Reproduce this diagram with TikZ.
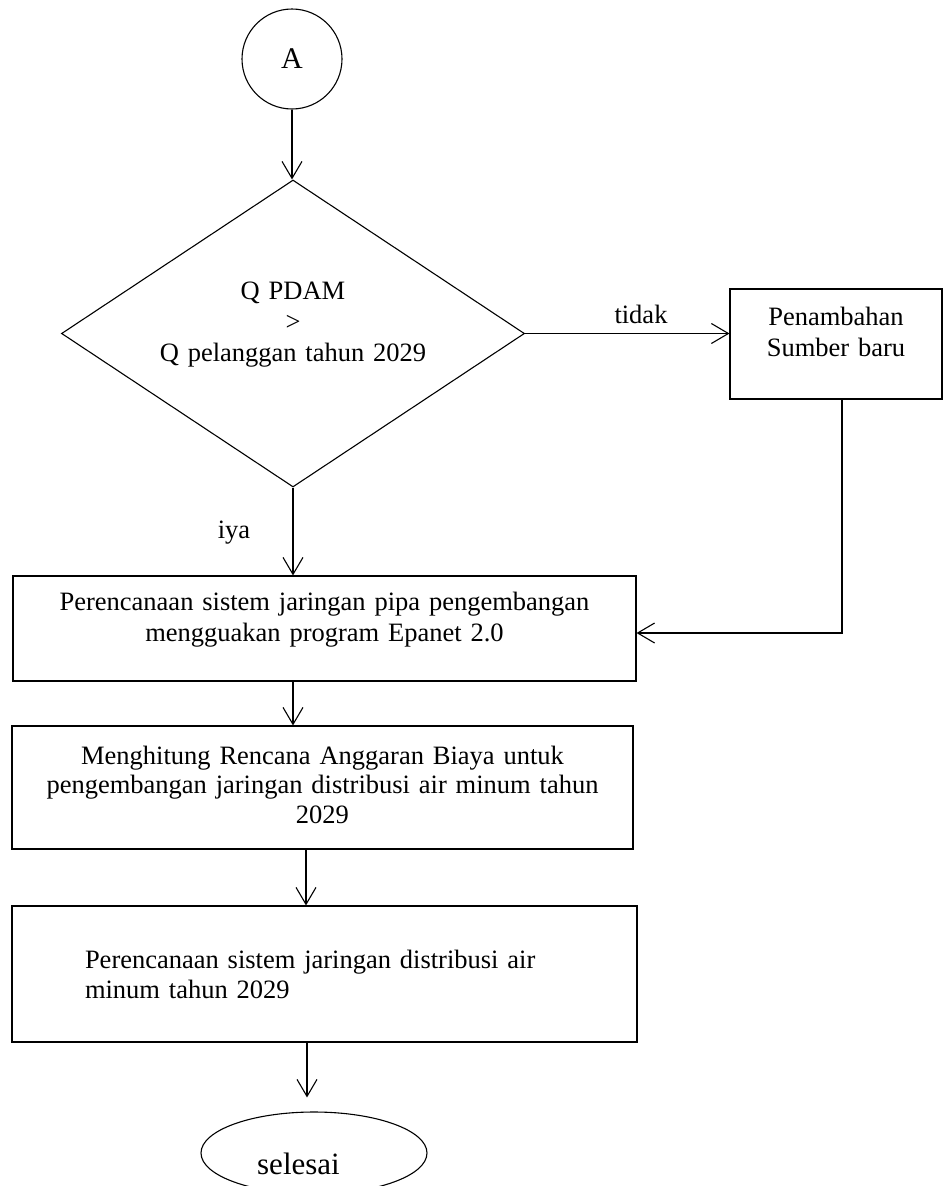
\documentclass[tikz,border=0pt]{standalone}
\usepackage{fontspec}
\setmainfont{Liberation Serif}
\usetikzlibrary{shapes.geometric,arrows.meta}
\begin{document}
\begin{tikzpicture}[x=1pt,y=-1pt,
  every node/.style={font=\fontsize{26.5}{31}\selectfont, inner sep=0pt},
  ln/.style={line width=1.1pt},
  arr/.style={ln, -{Straight Barb[length=17pt,width=20pt]}},
  box/.style={draw, ln, rectangle, align=center},
  lift/.style={execute at end node={\endgraf\vspace*{#1}}},
]
\useasboundingbox (0,0) rectangle (943,1186);
\clip (0,0) rectangle (943,1186);
\fill[white] (0,0) rectangle (943,1186);

\node[draw, ln, circle, minimum size=100pt, font=\fontsize{30}{36}\selectfont] (A) at (292,59) {A};
\node[draw, ln, diamond, aspect=1.508, minimum width=463pt, minimum height=307pt,
      text width=275pt, align=center, lift=18pt] (d) at (293,333.5)
      {Q PDAM\\>\\Q pelanggan tahun 2029};
\node[box, minimum width=212pt, minimum height=110pt, text width=190pt, lift=25pt] (p) at (836,344)
      {Penambahan\\Sumber baru};
\node[box, minimum width=623pt, minimum height=105pt, text width=590pt, lift=17pt] (b1) at (324.5,628.5)
      {Perencanaan sistem jaringan pipa pengembangan\\mengguakan program Epanet 2.0};
\node[box, minimum width=621pt, minimum height=123pt, text width=600pt, lift=6pt,
      font=\fontsize{26.5}{29.5}\selectfont] (b2) at (322.5,787.5)
      {Menghitung Rencana Anggaran Biaya untuk\\pengembangan jaringan distribusi air minum tahun\\2029};
\node[box, align=left, minimum width=625pt, minimum height=136pt, text width=479pt,
      font=\fontsize{26.5}{30}\selectfont] (b3) at (324.5,974)
      {Perencanaan sistem jaringan distribusi air\\minum tahun 2029};
\node[draw, ln, ellipse, minimum width=226pt, minimum height=82pt] (e) at (314,1153) {};
\node[anchor=base, font=\fontsize{31}{36}\selectfont] (eT) at (298.5,1174) {selesai};

\node[anchor=base] (tidak) at (641,323) {tidak};
\node[anchor=base] (iya) at (234,538) {iya};
\coordinate (eIn) at ([xshift=-7pt,yshift=14pt]e.north);

\draw[arr] (A.south) -- (A.south |- d.north);
\draw[arr] (d.east) -- (d.east -| p.west);
\draw[arr] (d.south) -- (d.south |- b1.north);
\draw[arr] ([xshift=6pt]p.south) |- ([yshift=-4.5pt]b1.east);
\draw[arr] (b1.south -| d.south) -- (b2.north -| d.south);
\draw[arr] ([xshift=-16.5pt]b2.south) -- ([xshift=-16.5pt]b2.south |- b3.north);
\draw[arr] (b3.south -| eIn) -- (eIn);
\end{tikzpicture}
\end{document}
